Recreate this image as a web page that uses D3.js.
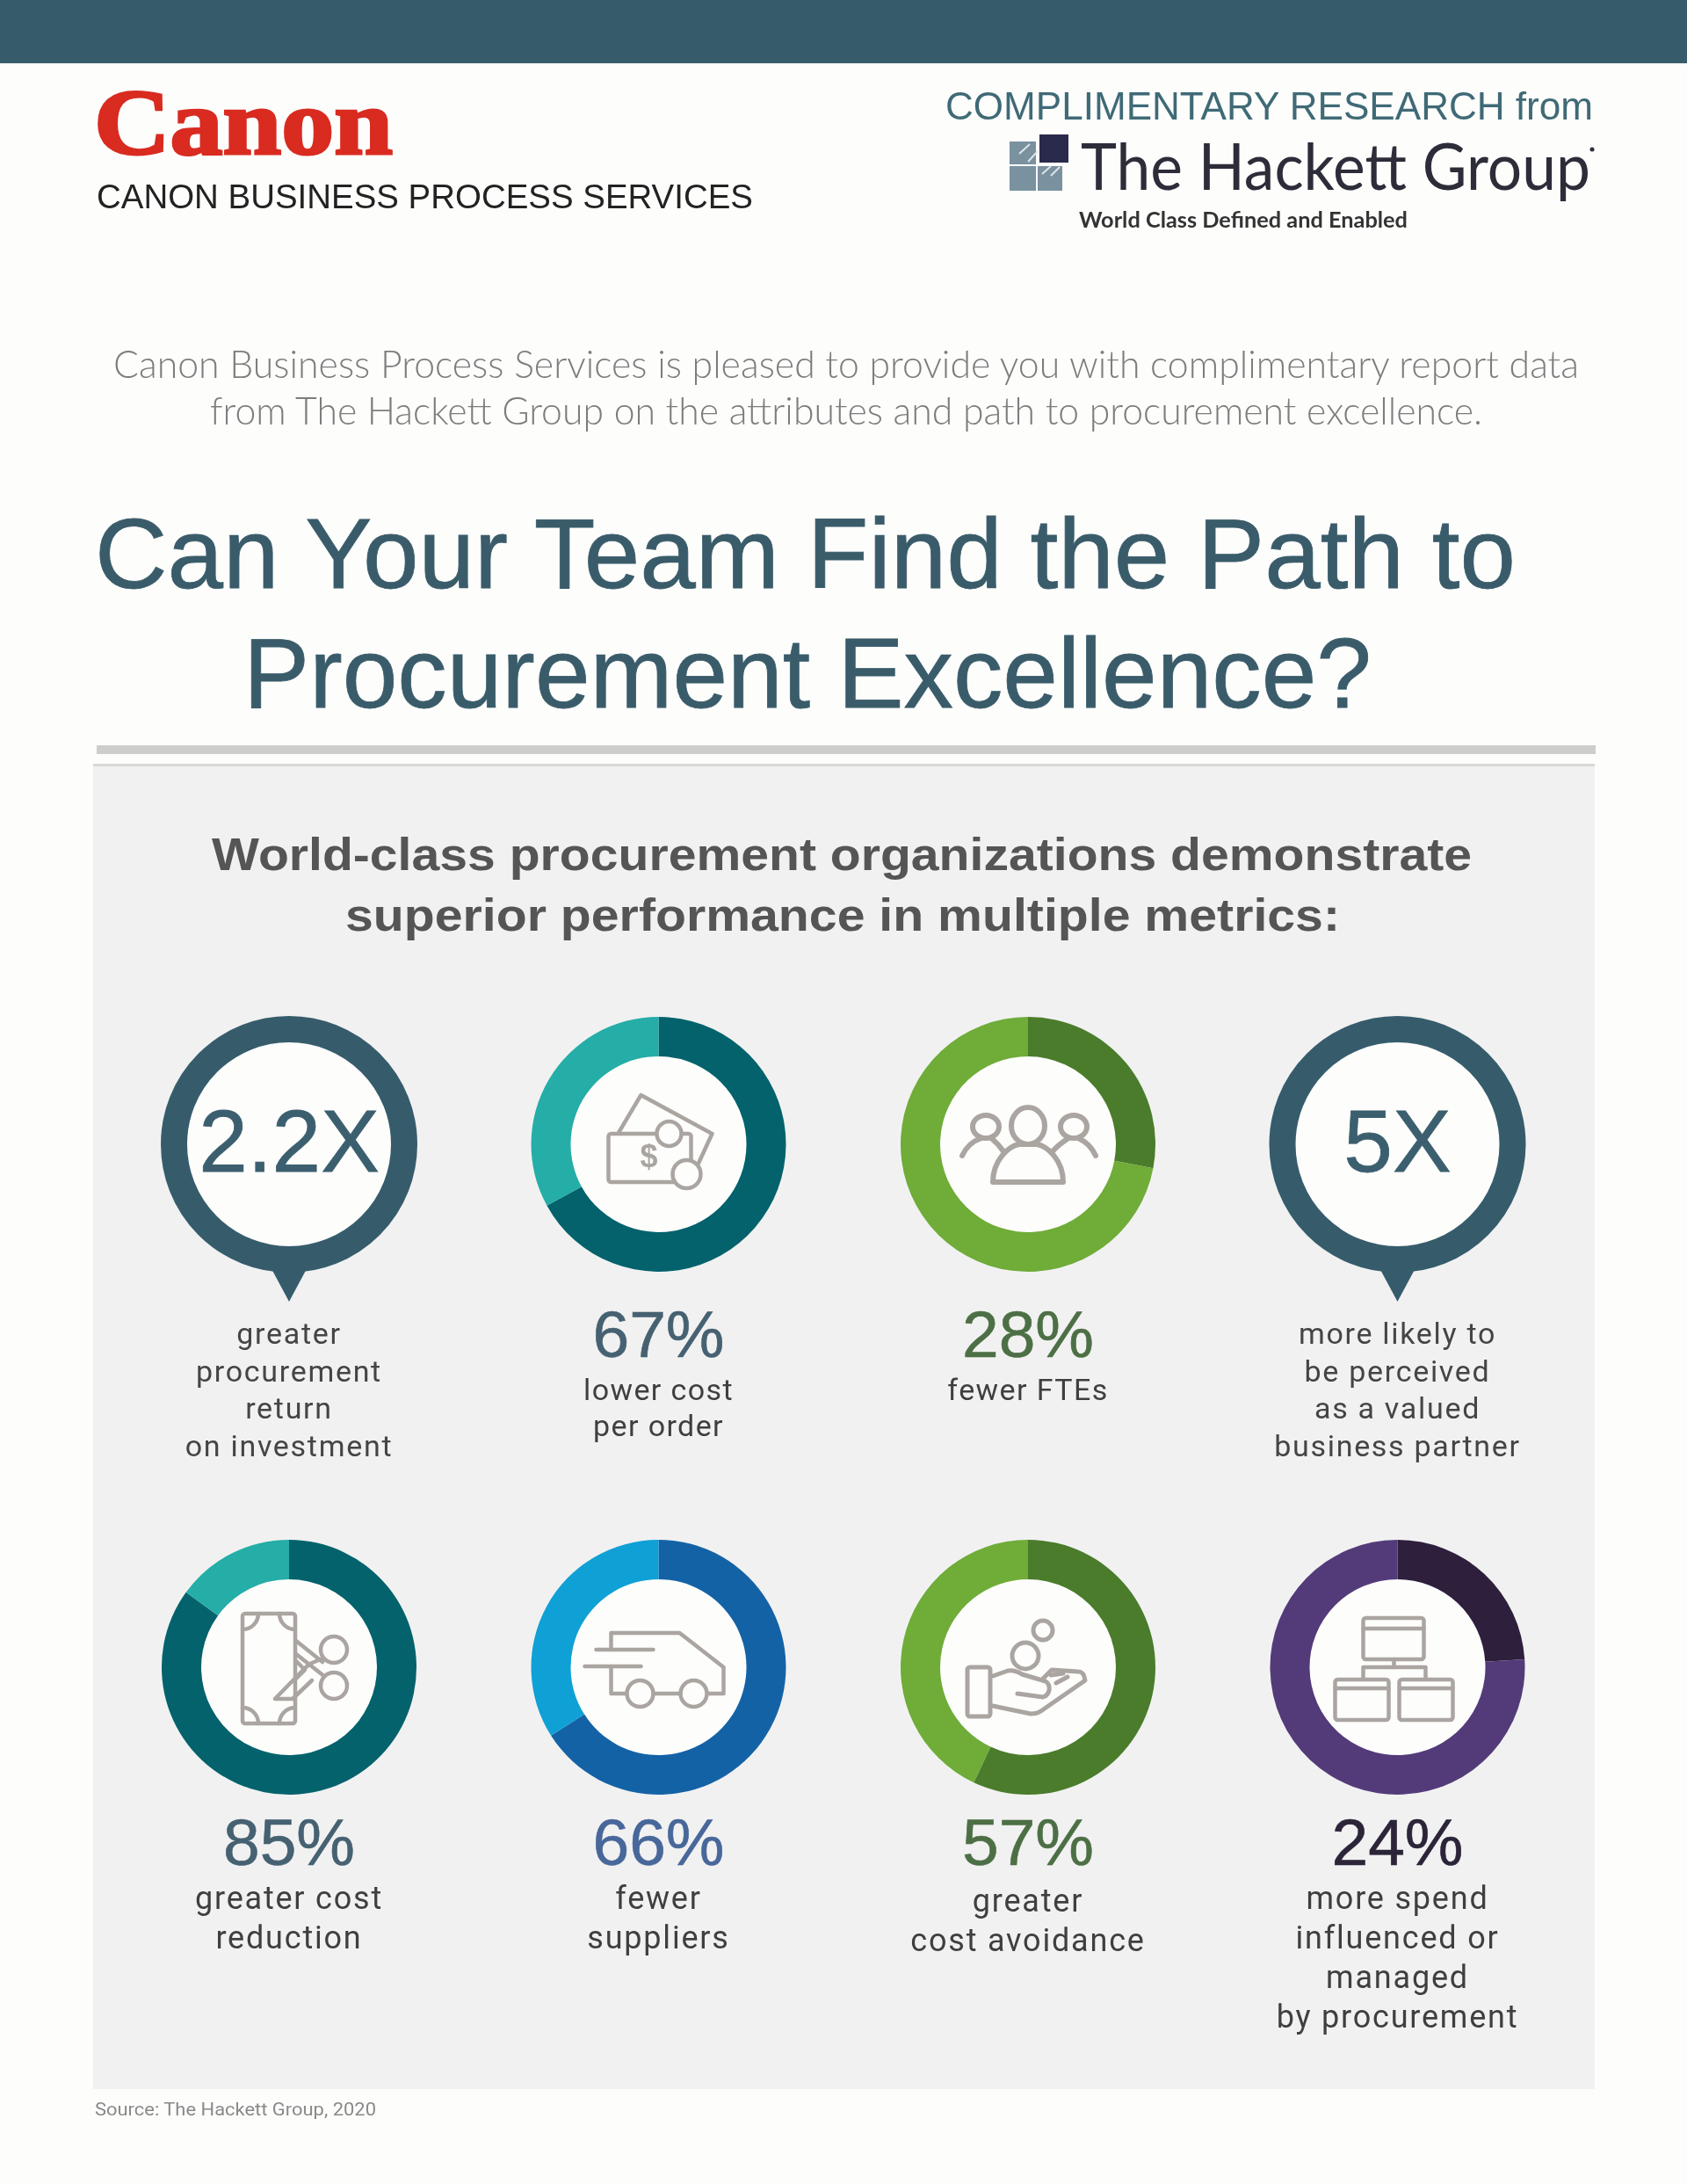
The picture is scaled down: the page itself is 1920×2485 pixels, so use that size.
<!DOCTYPE html>
<html>
<head>
<meta charset="utf-8">
<script src="https://cdn.jsdelivr.net/npm/d3@7"></script>
<style>
  html, body { margin: 0; padding: 0; background: #fdfdfc; }
  svg { display: block; filter: blur(0.5px); }
</style>
</head>
<body>
<svg id="chart"></svg>
<script>
// values
const metricValues = [2.2, 67, 28, 5, 85, 66, 57, 24];
const metricUnits = ["X", "%", "%", "X", "%", "%", "%", "%"];
const metricCaptions = [
    ["greater", "procurement", "return", "on investment"],
    ["lower cost", "per order"],
    ["fewer FTEs"],
    ["more likely to", "be perceived", "as a valued", "business partner"],
    ["greater cost", "reduction"],
    ["fewer", "suppliers"],
    ["greater", "cost avoidance"],
    ["more spend", "influenced or", "managed", "by procurement"]
];
const metricIcons = [null, "money", "people", null, "scissors", "van", "hand", "org"];
const ringDark = [null, "#03626c", "#4a7c2c", null, "#03626c", "#1462a6", "#4a7c2c", "#2e1f3d"];
const ringLight = [null, "#25ada7", "#6fac38", null, "#25ada7", "#0fa0d6", "#6fac38", "#533b7a"];
const numberColors = ["#3c5f6f", "#466171", "#4d6f45", "#3c5f6f", "#466171", "#48679a", "#4d6f45", "#2c2438"];

const introLines = [
    "Canon Business Process Services is pleased to provide you with complimentary report data",
    "from The Hackett Group on the attributes and path to procurement excellence."
];
const titleLines = ["Can Your Team Find the Path to", "Procurement Excellence?"];
const subheadLines = [
    "World-class procurement organizations demonstrate",
    "superior performance in multiple metrics:"
];

const width = 1920;
const height = 2485;
const sans = "'Liberation Sans', Arial, sans-serif";
const rob = "Roboto, 'Liberation Sans', sans-serif";
const light = "Lato, 'Open Sans', sans-serif";

const svg = d3.select("#chart")
    .attr("width", width)
    .attr("height", height)
    .attr("viewBox", [0, 0, width, height]);

// page furniture
svg.append("rect").attr("width", width).attr("height", height).attr("fill", "#fdfdfc");
svg.append("rect").attr("width", width).attr("height", 72).attr("fill", "#365c6b");
svg.append("rect").attr("x", 110).attr("y", 848).attr("width", 1706).attr("height", 10).attr("fill", "#cdcdcb");
svg.append("rect").attr("x", 106).attr("y", 870).attr("width", 1709).attr("height", 1507).attr("fill", "#f1f1f1");
svg.append("rect").attr("x", 106).attr("y", 869).attr("width", 1709).attr("height", 3).attr("fill", "#d8d8d6");

function label(text, x, y, size, family, color, opts = {}) {
    const t = svg.append("text")
        .attr("x", x).attr("y", y)
        .attr("font-size", size)
        .attr("font-family", family)
        .attr("fill", color)
        .attr("font-weight", opts.weight || 400)
        .attr("text-anchor", opts.anchor || "start")
        .text(text);
    if (opts.fit) t.attr("textLength", opts.fit).attr("lengthAdjust", "spacingAndGlyphs");
    if (opts.spacing) t.attr("letter-spacing", opts.spacing);
    if (opts.stroke) t.attr("stroke", color).attr("stroke-width", opts.stroke);
    return t;
}

// header, left
label("Canon", 107, 175, 106, "'Liberation Serif', serif", "#d92b20", { weight: 700, fit: 340, stroke: 3 });
label("CANON BUSINESS PROCESS SERVICES", 110, 237, 39, sans, "#222", { fit: 747 });

// header, right
label("COMPLIMENTARY RESEARCH from", 1076, 136, 44, sans, "#3f6a76", { fit: 737 });
const logoSquares = [[1149, 161, 30, 26], [1149, 189, 30, 28], [1181, 189, 28, 28]];
svg.append("g").selectAll("rect").data(logoSquares).join("rect")
    .attr("x", d => d[0]).attr("y", d => d[1]).attr("width", d => d[2]).attr("height", d => d[3])
    .attr("fill", "#7a919f");
svg.append("path")
    .attr("d", "M1160,175 L1172,164 M1170,184 L1181,172 M1186,198 L1196,189 M1196,200 L1206,190")
    .attr("stroke", "#dfe5e8").attr("stroke-width", 2).attr("fill", "none");
svg.append("rect").attr("x", 1183).attr("y", 153).attr("width", 33).attr("height", 32).attr("fill", "#2a2a4c");
label("The Hackett Group", 1230, 216, 74, light, "#2d2d3a", { fit: 580 });
svg.append("circle").attr("cx", 1812).attr("cy", 170).attr("r", 2.5).attr("fill", "#2d2d3a");
label("World Class Defined and Enabled", 1228, 259, 24, light, "#333", { weight: 700, fit: 374 });

// intro, title, subhead
[[129, 430, 1668], [239, 483, 1448]].forEach((p, i) =>
    label(introLines[i], p[0], p[1], 44, light, "#7d7d7d", { weight: 300, fit: p[2] }));
[[108, 669, 1617], [277, 805, 1284]].forEach((p, i) =>
    label(titleLines[i], p[0], p[1], 113, sans, "#3a5c6a", { fit: p[2], stroke: 0.8 }));
[[241, 990, 1434], [393, 1059, 1132]].forEach((p, i) =>
    label(subheadLines[i], p[0], p[1], 52, sans, "#555555", { weight: 700, fit: p[2] }));

// metric grid
const xCol = d3.scalePoint().domain([0, 1, 2, 3]).range([329, 1590.5]);
const yRow = d3.scalePoint().domain([0, 1]).range([1302, 1897]);
const outerR = 145;
const innerR = 100;

const pie = d3.pie().sort(null).value(d => d);
const arc = d3.arc().innerRadius(innerR).outerRadius(outerR);

metricValues.forEach((value, i) => {
    const col = i % 4;
    const row = Math.floor(i / 4);
    const cx = xCol(col);
    const cy = yRow(row);
    const g = svg.append("g").attr("transform", `translate(${cx},${cy})`);

    if (metricUnits[i] === "X") {
        // speech-bubble pin instead of a ring
        g.append("path")
            .attr("d", d3.line()([[-22, 138], [22, 138], [0, 179]]) + "Z")
            .attr("fill", "#365c6c");
        g.append("circle").attr("r", 131).attr("fill", "#fdfdfc").attr("stroke", "#365c6c").attr("stroke-width", 30);
        label(value + "X", cx, cy + 31, 100, sans, numberColors[i], { anchor: "middle", stroke: 0.8 });
        metricCaptions[i].forEach((line, k) =>
            label(line, cx, 1529 + k * 42.6, 34, rob, "#454545", { anchor: "middle", spacing: 1.7 }));
        return;
    }

    g.append("circle").attr("r", innerR + 1).attr("fill", "#fdfdfc");
    g.selectAll("path.slice").data(pie([value, 100 - value])).join("path")
        .attr("class", "slice")
        .attr("d", arc)
        .attr("fill", (d, k) => k === 0 ? ringDark[i] : ringLight[i]);
    drawIcon(g.append("g"), metricIcons[i]);

    const numY = row === 0 ? 1544 : 2122;
    label(value + "%", cx, numY, 75, sans, numberColors[i], { anchor: "middle", stroke: 0.6 });
    const capY = row === 0 ? 1593 : (col === 2 ? 2175 : 2172);
    const capGap = row === 0 ? 41 : 45;
    const capSize = row === 0 ? 34 : 36;
    const capSpacing = row === 0 ? 1.4 : 1.8;
    metricCaptions[i].forEach((line, k) =>
        label(line, cx, capY + k * capGap, capSize, rob, "#3f3f3f", { anchor: "middle", spacing: capSpacing }));
});

label("Source: The Hackett Group, 2020", 108, 2407, 21, rob, "#8a8a8a", { fit: 320 });

// line-art icons, drawn around the ring centre
function drawIcon(g, name) {
    g.attr("fill", "none")
        .attr("stroke", "#aaa5a1")
        .attr("stroke-width", 4.5)
        .attr("stroke-linejoin", "round")
        .attr("stroke-linecap", "round");
    const p = d => g.append("path").attr("d", d);
    const c = (x, y, r) => g.append("circle").attr("cx", x).attr("cy", y).attr("r", r).attr("fill", "#fdfdfc");
    const box = (x, y, w, h) => g.append("rect").attr("x", x).attr("y", y).attr("width", w).attr("height", h).attr("rx", 3);

    if (name === "money") {
        p("M-45,-14 L-20,-56 L61,-12 L42,29");
        box(-57, -12, 94, 55);
        c(12, -12, 14);
        c(32, 34, 16);
        g.append("text").attr("x", -11).attr("y", 26).attr("font-size", 36)
            .attr("font-family", sans).attr("font-weight", 700)
            .attr("text-anchor", "middle").attr("fill", "#aaa5a1").attr("stroke", "none").text("$");
    }
    if (name === "people") {
        g.attr("stroke-width", 6);
        g.append("ellipse").attr("cy", -21).attr("rx", 19).attr("ry", 21);
        p("M-40,43 C-40,18 -22,2 -10,0 L10,0 C22,2 40,18 40,43 Z");
        g.append("ellipse").attr("cx", -48).attr("cy", -20).attr("rx", 15).attr("ry", 13);
        g.append("ellipse").attr("cx", 52).attr("cy", -20).attr("rx", 15).attr("ry", 13);
        p("M-75,13 C-70,2 -62,-4 -53,-7");
        p("M-28,8 C-32,2 -37,-3 -42,-7");
        p("M77,13 C72,2 64,-4 57,-7");
        p("M28,8 C33,2 40,-3 46,-7");
    }
    if (name === "scissors") {
        box(-53, -61, 60, 125);
        p("M-53,-43 A18,18 0 0 0 -35,-61 M7,-43 A18,18 0 0 1 -11,-61");
        p("M-53,46 A18,18 0 0 1 -35,64 M7,46 A18,18 0 0 0 -11,64");
        p("M8,-30 L38,-6 M8,-15 L41,11");
        p("M-16,36 L18,1 L24,-4 L38,-10 M-16,36 L4,36 L26,15");
        p("M8,-7 L18,3 L8,13");
        c(51, -20, 15);
        c(51, 21, 15);
    }
    if (name === "van") {
        p("M-54,-20 L-54,-39 L24,-39 L74,0 L74,30 L55,30");
        p("M-54,-1 L-54,30 L-36,30");
        p("M-6,30 L25,30");
        p("M-71,-20 L-6,-20");
        p("M-84,-1 L-20,-1");
        c(-21, 30, 15);
        c(40, 30, 15);
    }
    if (name === "hand") {
        g.attr("stroke-width", 5);
        box(-69, 0, 26, 56);
        c(17, -42, 11);
        c(-3, -13, 15);
        p("M-40,10 L-23,4 C-16,3 -10,6 -7,8 L20,16 C26,20 26,31 17,34 L-12,30");
        p("M-40,44 L3,53 C8,53 12,52 16,49 L65,15 C64,8 62,5 57,5 L27,3 L17,13");
        p("M32,18 L45,11 M26,9 L40,7");
    }
    if (name === "org") {
        box(-39, -56, 69, 47);
        p("M-39,-44 L30,-44");
        p("M-4,-9 L-4,0");
        p("M-39,12 L-39,0 L32,0 L32,12");
        box(-71, 14, 61, 46);
        p("M-71,24 L-10,24");
        box(2, 14, 61, 46);
        p("M2,24 L63,24");
    }
}
</script>
</body>
</html>
